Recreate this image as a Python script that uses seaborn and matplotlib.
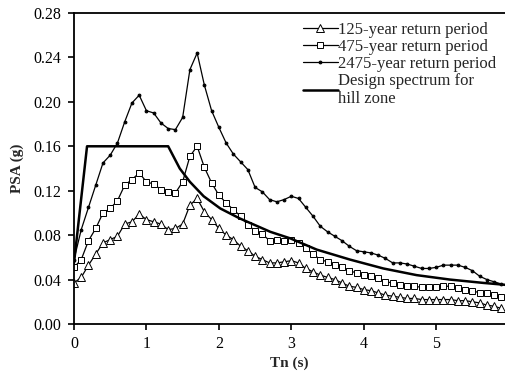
import matplotlib
matplotlib.use("Agg")
import matplotlib.pyplot as plt
import seaborn as sns
import pandas as pd

periods = [0.0, 0.1, 0.2, 0.3, 0.4, 0.5, 0.6, 0.7, 0.8, 0.9,
           1.0, 1.1, 1.2, 1.3, 1.4, 1.5, 1.6, 1.7, 1.8, 1.9,
           2.0, 2.1, 2.2, 2.3, 2.4, 2.5, 2.6, 2.7, 2.8, 2.9,
           3.0, 3.1, 3.2, 3.3, 3.4, 3.5, 3.6, 3.7, 3.8, 3.9,
           4.0, 4.1, 4.2, 4.3, 4.4, 4.5, 4.6, 4.7, 4.8, 4.9,
           5.0, 5.1, 5.2, 5.3, 5.4, 5.5, 5.6, 5.7, 5.8, 5.9]

psa_125 = [0.037, 0.042, 0.053, 0.063, 0.073, 0.076, 0.079, 0.090, 0.092, 0.099,
           0.094, 0.092, 0.090, 0.085, 0.086, 0.090, 0.107, 0.113, 0.101, 0.094,
           0.086, 0.080, 0.076, 0.070, 0.066, 0.061, 0.058, 0.055, 0.055, 0.056,
           0.057, 0.055, 0.050, 0.047, 0.044, 0.042, 0.040, 0.037, 0.034, 0.033,
           0.031, 0.030, 0.028, 0.026, 0.025, 0.024, 0.023, 0.023, 0.022, 0.022,
           0.022, 0.022, 0.022, 0.021, 0.021, 0.020, 0.019, 0.017, 0.016, 0.014]

psa_475 = [0.051, 0.058, 0.075, 0.086, 0.100, 0.104, 0.111, 0.125, 0.130, 0.136,
           0.128, 0.126, 0.121, 0.119, 0.118, 0.128, 0.151, 0.160, 0.141, 0.127,
           0.116, 0.109, 0.103, 0.097, 0.089, 0.084, 0.081, 0.075, 0.076, 0.075,
           0.076, 0.073, 0.068, 0.063, 0.058, 0.056, 0.053, 0.051, 0.048, 0.046,
           0.044, 0.043, 0.041, 0.038, 0.037, 0.035, 0.034, 0.034, 0.033, 0.033,
           0.033, 0.034, 0.034, 0.032, 0.031, 0.030, 0.028, 0.028, 0.026, 0.024]

psa_2475 = [0.058, 0.085, 0.105, 0.125, 0.145, 0.152, 0.163, 0.182, 0.199, 0.206,
            0.192, 0.190, 0.181, 0.176, 0.175, 0.186, 0.229, 0.244, 0.215, 0.192,
            0.177, 0.163, 0.153, 0.146, 0.139, 0.123, 0.119, 0.112, 0.110, 0.112,
            0.115, 0.113, 0.105, 0.097, 0.088, 0.083, 0.079, 0.075, 0.070, 0.066,
            0.065, 0.064, 0.062, 0.059, 0.055, 0.055, 0.054, 0.052, 0.050, 0.050,
            0.051, 0.053, 0.053, 0.053, 0.051, 0.048, 0.043, 0.040, 0.038, 0.036]

design_T = [0.0, 0.18, 1.3, 1.46, 1.6, 1.79, 2.02, 2.29, 2.57, 2.71, 2.99,
            3.35, 3.81, 4.27, 4.73, 5.19, 5.65, 6.0]
design_psa = [0.055, 0.160, 0.160, 0.140, 0.128, 0.115, 0.104, 0.095, 0.087,
              0.083, 0.077, 0.067, 0.058, 0.050, 0.044, 0.040, 0.037, 0.035]

labels = ["125-year return period", "475-year return period",
          "2475-year return period", "Design spectrum for\nhill zone"]
x_ticks = [0, 1, 2, 3, 4, 5]
y_ticks = [0.00, 0.04, 0.08, 0.12, 0.16, 0.20, 0.24, 0.28]

sns.set_style("ticks")
plt.rcParams["font.family"] = ["Liberation Serif", "DejaVu Serif"]

fig = plt.figure(figsize=(5.05, 3.72), dpi=100)
ax = fig.add_axes([74 / 505, 1 - 324 / 372, (505 - 74) / 505, (324 - 13) / 372])

df125 = pd.DataFrame({"T": periods, "PSA": psa_125})
df475 = pd.DataFrame({"T": periods, "PSA": psa_475})
df2475 = pd.DataFrame({"T": periods, "PSA": psa_2475})
dfd = pd.DataFrame({"T": design_T, "PSA": design_psa})

sns.lineplot(data=df125, x="T", y="PSA", ax=ax, color="black", lw=0.9,
             marker="^", markersize=5.5, markerfacecolor="white",
             markeredgecolor="black", markeredgewidth=0.7, label=labels[0])
sns.lineplot(data=df475, x="T", y="PSA", ax=ax, color="black", lw=0.9,
             marker="s", markersize=4.8, markerfacecolor="white",
             markeredgecolor="black", markeredgewidth=0.7, label=labels[1])
sns.lineplot(data=df2475, x="T", y="PSA", ax=ax, color="black", lw=0.9,
             marker="o", markersize=2, markerfacecolor="black",
             markeredgecolor="black", label=labels[2])
sns.lineplot(data=dfd, x="T", y="PSA", ax=ax, color="black", lw=1.8,
             label=labels[3])

ax.set_xlim(0, 5.95)
ax.set_ylim(0, 0.28)
ax.set_xticks(x_ticks)
ax.set_yticks(y_ticks)
ax.set_yticklabels([f"{v:.2f}" for v in y_ticks])
ax.tick_params(direction="out", length=4, width=1.2, labelsize=11.5,
               colors="black", pad=5)
for s in ["left", "bottom", "top"]:
    ax.spines[s].set_linewidth(1.3)
    ax.spines[s].set_color("black")
ax.spines["right"].set_visible(False)

ax.set_xlabel("Tn (s)", fontsize=11, fontweight="bold", labelpad=3)
ax.set_ylabel("PSA (g)", fontsize=11, fontweight="bold", labelpad=7)

leg = ax.legend(loc="upper right", bbox_to_anchor=(1.0, 1.0), frameon=False,
                fontsize=12, handlelength=2.1, handletextpad=0.0,
                labelspacing=0.05, numpoints=1, borderaxespad=0.15)

fig.savefig("out.png", dpi=100)
